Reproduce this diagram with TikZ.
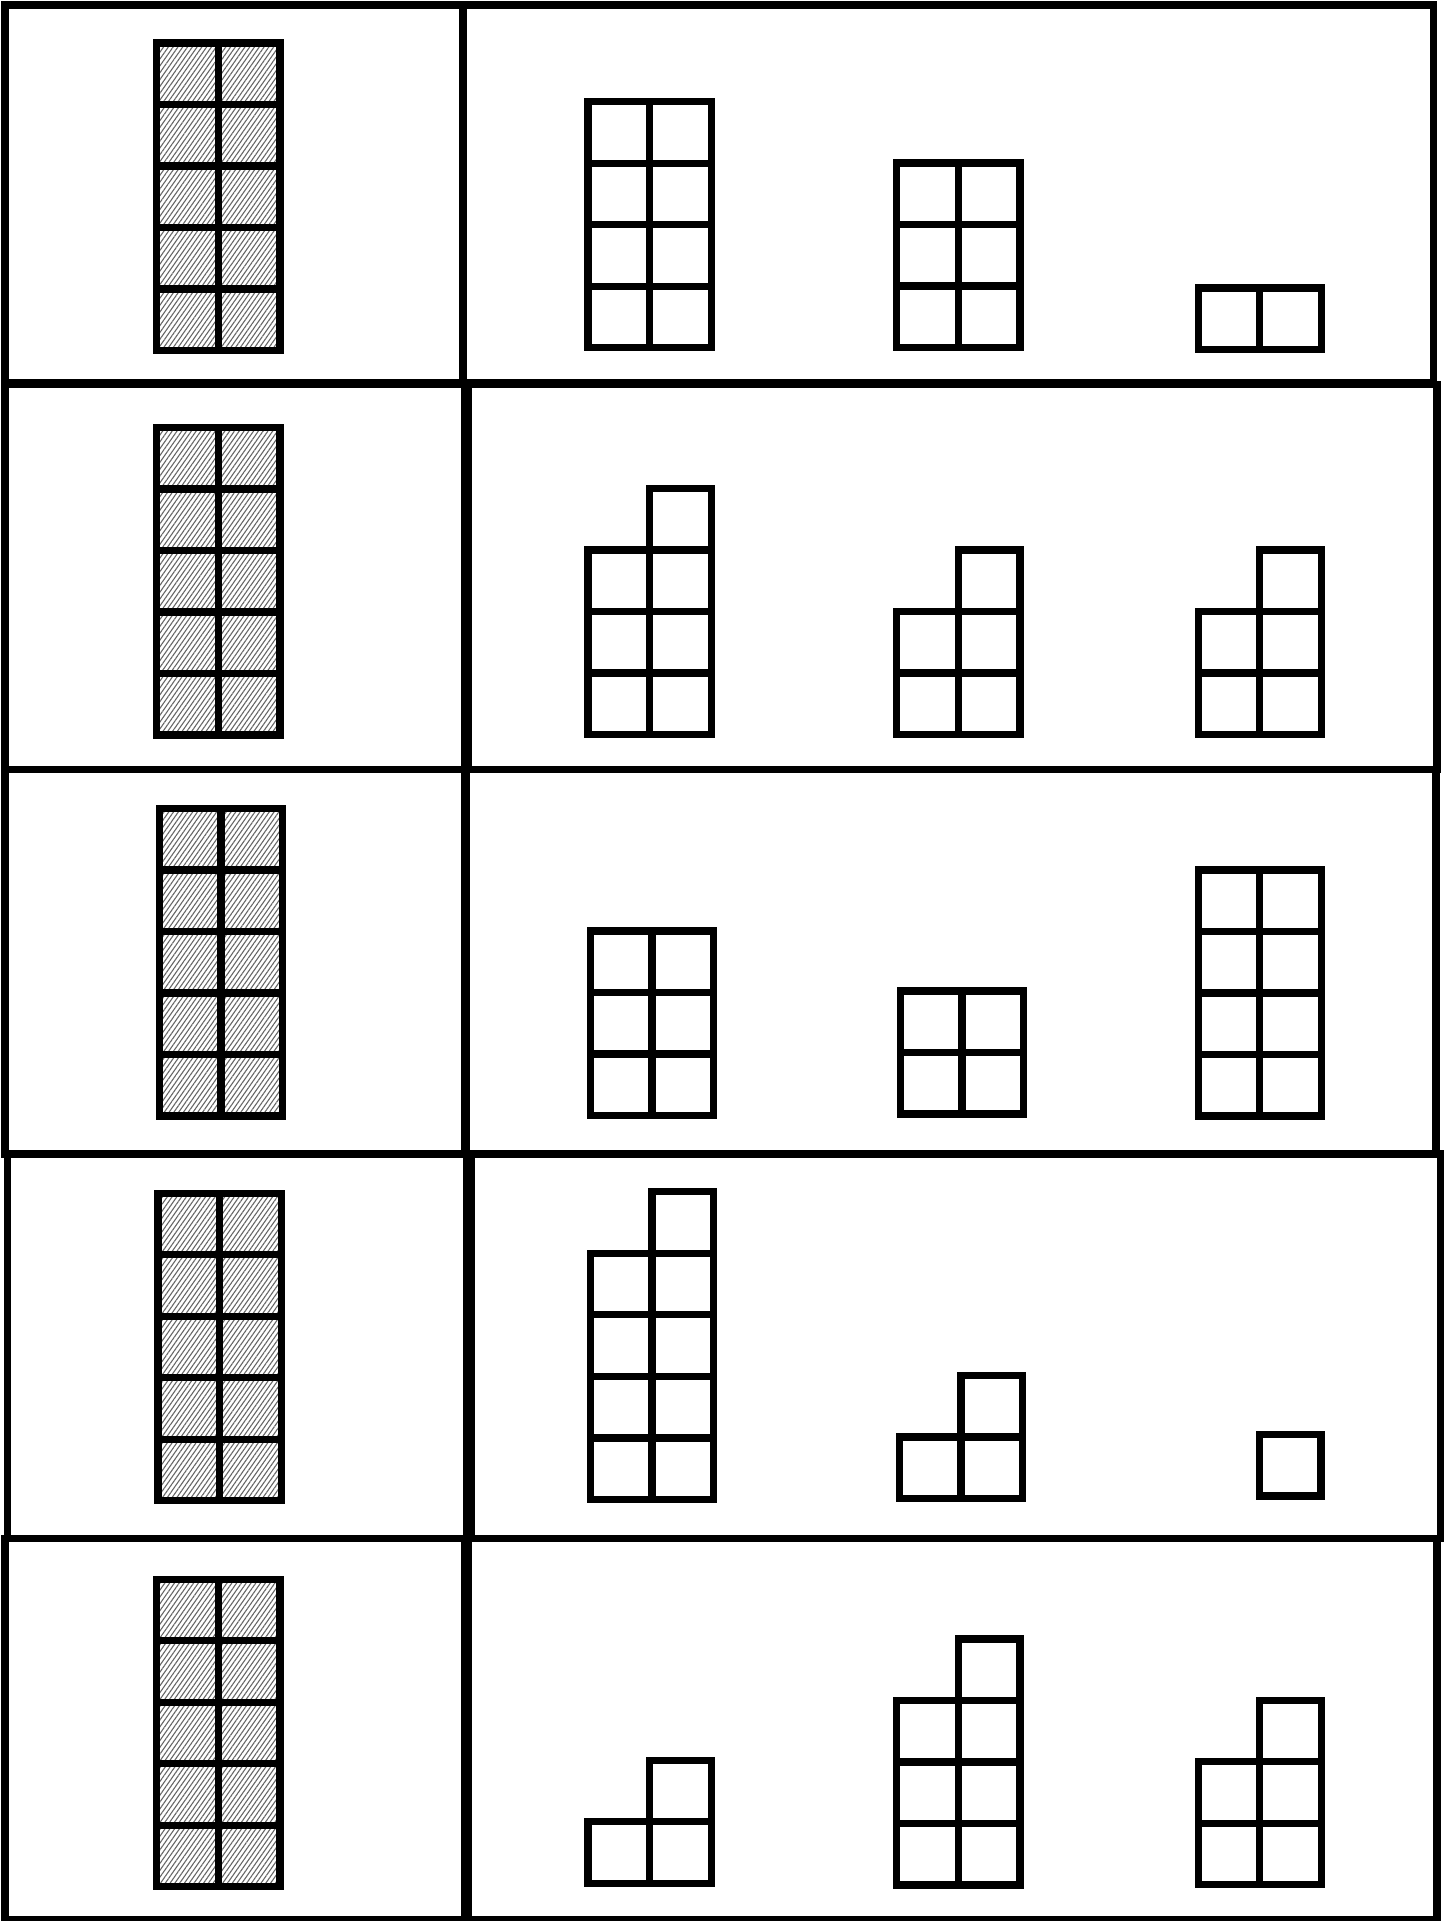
\documentclass[tikz,border=0pt]{standalone}
\usetikzlibrary{patterns.meta}
\newcommand\cellgrid[4]{% x y cols rows (top-left corner)
  \foreach \ci in {1,...,#3}{\foreach \cj in {1,...,#4}{%
    \draw[cellline] ({#1+(\ci-1)*50.3},{#2+(\cj-1)*50.2}) rectangle ++(50.3,50.2);}}}
\newcommand\hatchgrid[2]{% x y : 2 x 5 hatched block
  \fill[hatch] (#1,#2) rectangle ++(100.6,251);
  \cellgrid{#1}{#2}{2}{5}}
\begin{document}
\begin{tikzpicture}[x=1pt,y=-1pt,
  panel/.style={line width=6pt,line join=miter},
  cellline/.style={line width=6pt,line join=miter},
  hatch/.style={pattern={Lines[angle=55,distance=3.2pt,line width=0.9pt]},pattern color=black!60}]
\useasboundingbox (0,0) rectangle (1181,1568);
% panels
\draw[panel] (4,4) rectangle (378,312);
\draw[panel] (378,4) rectangle (1170,312);
\draw[panel] (4,314) rectangle (379,628);
\draw[panel] (382,314) rectangle (1173,628);
\draw[panel] (4,628) rectangle (379,942);
\draw[panel] (381,628) rectangle (1172,942);
\draw[panel] (6,942) rectangle (381,1256);
\draw[panel] (385,942) rectangle (1176,1256);
\draw[panel] (4,1256) rectangle (379,1567);
\draw[panel] (382,1256) rectangle (1173,1567);
% hatched blocks
\hatchgrid{128}{35}
\hatchgrid{128}{349}
\hatchgrid{130}{660}
\hatchgrid{129}{974}
\hatchgrid{128}{1289}
% row 1
\cellgrid{480}{83}{2}{4}
\cellgrid{732}{133}{2}{3}
\cellgrid{978}{235}{2}{1}
% row 2
\cellgrid{480}{449}{2}{3}
\cellgrid{530.3}{398.8}{1}{1}
\cellgrid{732}{499}{2}{2}
\cellgrid{782.3}{448.8}{1}{1}
\cellgrid{978}{499}{2}{2}
\cellgrid{1028.3}{448.8}{1}{1}
% row 3
\cellgrid{482}{760}{2}{3}
\cellgrid{735}{809}{2}{2}
\cellgrid{978}{710}{2}{4}
% row 4
\cellgrid{482}{1023}{2}{4}
\cellgrid{532.3}{972.8}{1}{1}
\cellgrid{734}{1173}{2}{1}
\cellgrid{784.3}{1122.8}{1}{1}
\cellgrid{1028}{1171}{1}{1}
% row 5
\cellgrid{480}{1487}{2}{1}
\cellgrid{530.3}{1436.8}{1}{1}
\cellgrid{732}{1388}{2}{3}
\cellgrid{782.3}{1337.8}{1}{1}
\cellgrid{978}{1438}{2}{2}
\cellgrid{1028.3}{1387.8}{1}{1}
\end{tikzpicture}
\end{document}
